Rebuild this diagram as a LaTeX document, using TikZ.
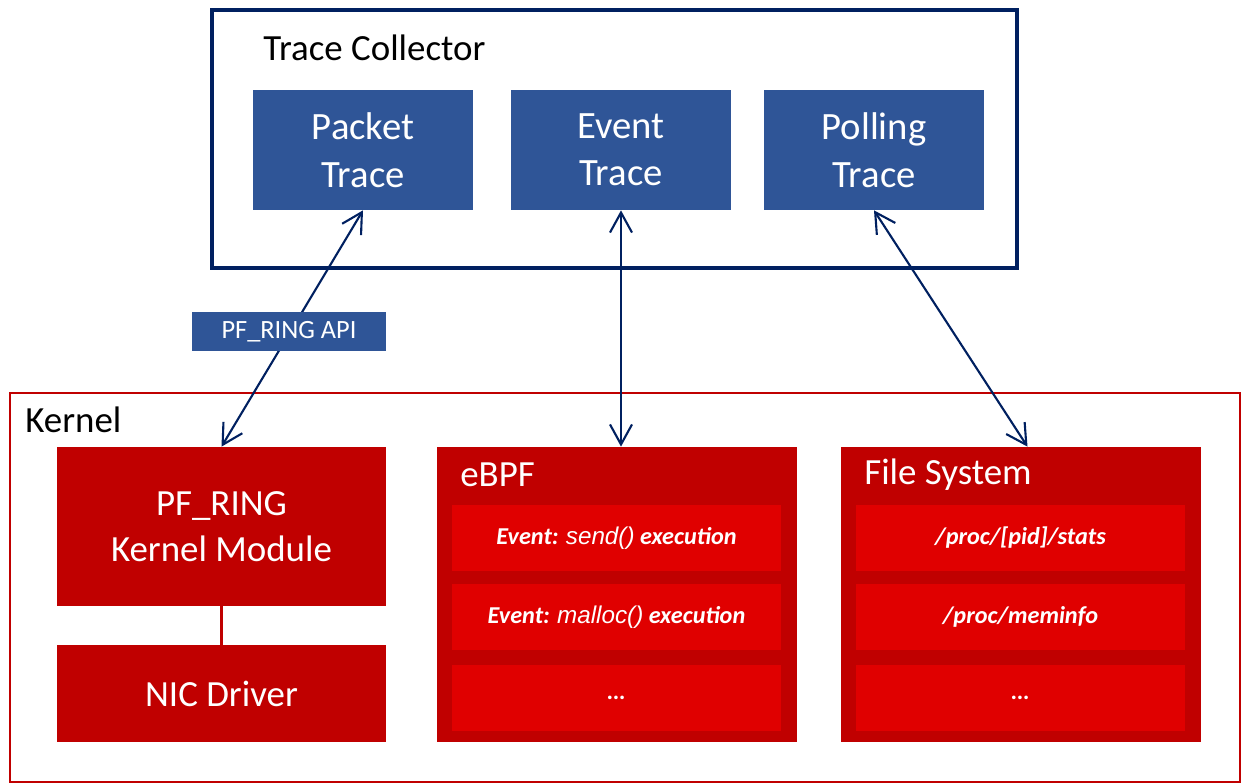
\documentclass[tikz,border=0pt]{standalone}
\usepackage{fontspec}
\setmainfont{Carlito}
\newfontfamily\arialfont{Liberation Sans}
\usetikzlibrary{arrows.meta,positioning}
\definecolor{tcnavy}{HTML}{002060}
\definecolor{tcblue}{HTML}{2F5597}
\definecolor{krred}{HTML}{C00000}
\definecolor{krlight}{HTML}{E00000}

\begin{document}
\begin{tikzpicture}[
    trace/.style={fill=tcblue, text=white, minimum width=4.4cm, minimum height=2.4cm, align=center, font=\fontsize{22}{27}\selectfont},
    module/.style={fill=krred, text=white, minimum width=6.58cm, align=center, font=\fontsize{21}{26}\selectfont},
    group/.style={fill=krred, minimum width=7.2cm, minimum height=5.9cm},
    entry/.style={fill=krlight, text=white, minimum width=6.58cm, minimum height=1.32cm, font=\fontsize{13.8}{16}\selectfont\bfseries\itshape},
    title/.style={font=\fontsize{21}{26}\selectfont, anchor=west, inner sep=0pt},
    arrow/.style={{Straight Barb[length=4mm,width=4.4mm]}-{Straight Barb[length=4mm,width=4.4mm]}, line width=1.2pt, draw=tcnavy}
]
\useasboundingbox (0,0) rectangle (24.84,-15.68);

% Trace collector
\node[draw=tcnavy, line width=1.8pt, minimum width=16.1cm, minimum height=5.16cm] (collector) at (12.29,-2.78) {};
\node[title] (collectorlabel) at (5.26,-0.96) {Trace Collector};
\node[trace] (packet) at (7.26,-3.0) {Packet\\Trace};
\node[trace] (event) at (12.42,-3.0) {Event\\Trace};
\node[trace] (polling) at (17.48,-3.0) {Polling\\Trace};

% Kernel
\node[draw=krred, line width=1.2pt, minimum width=24.6cm, minimum height=7.78cm] (kernel) at (12.5,-11.75) {};
\node[title] (kernellabel) at (0.5,-8.4) {Kernel};
\node[module, minimum height=3.18cm] (pfring) at (4.43,-10.53) {PF\_RING\\Kernel Module};
\node[module, minimum height=1.94cm] (nic) at (4.43,-13.87) {NIC Driver};
\draw[color=krred, line width=1.3pt] (pfring.south) -- (nic.north);

% eBPF
\node[group] (ebpf) at (12.34,-11.89) {};
\node[title, text=white] (ebpflabel) at (9.2,-9.5) {eBPF};
\node[entry] (send) at (12.33,-10.76) {Event: {\arialfont\mdseries send()} execution};
\node[entry] (malloc) at (12.33,-12.34) {Event: {\arialfont\mdseries malloc()} execution};
\node[entry] (ebpfmore) at (12.33,-13.95) {…};

% File system
\node[group] (fs) at (20.41,-11.89) {};
\node[title, text=white] (fslabel) at (17.28,-9.5) {File System};
\node[entry] (stats) at (20.41,-10.76) {/proc/[pid]/stats};
\node[entry] (meminfo) at (20.41,-12.34) {/proc/meminfo};
\node[entry] (fsmore) at (20.41,-13.95) {…};

% Arrows
\draw[arrow] (packet.south) -- (pfring.north);
\draw[arrow] (event.south) -- (event.south |- ebpf.north);
\draw[arrow] (polling.south) -- ([xshift=0.14cm]fs.north);
\node[fill=tcblue, text=white, minimum width=3.88cm, minimum height=0.78cm, font=\fontsize{15}{18}\selectfont] (api) at (5.78,-6.63) {PF\_RING API};
\end{tikzpicture}
\end{document}
